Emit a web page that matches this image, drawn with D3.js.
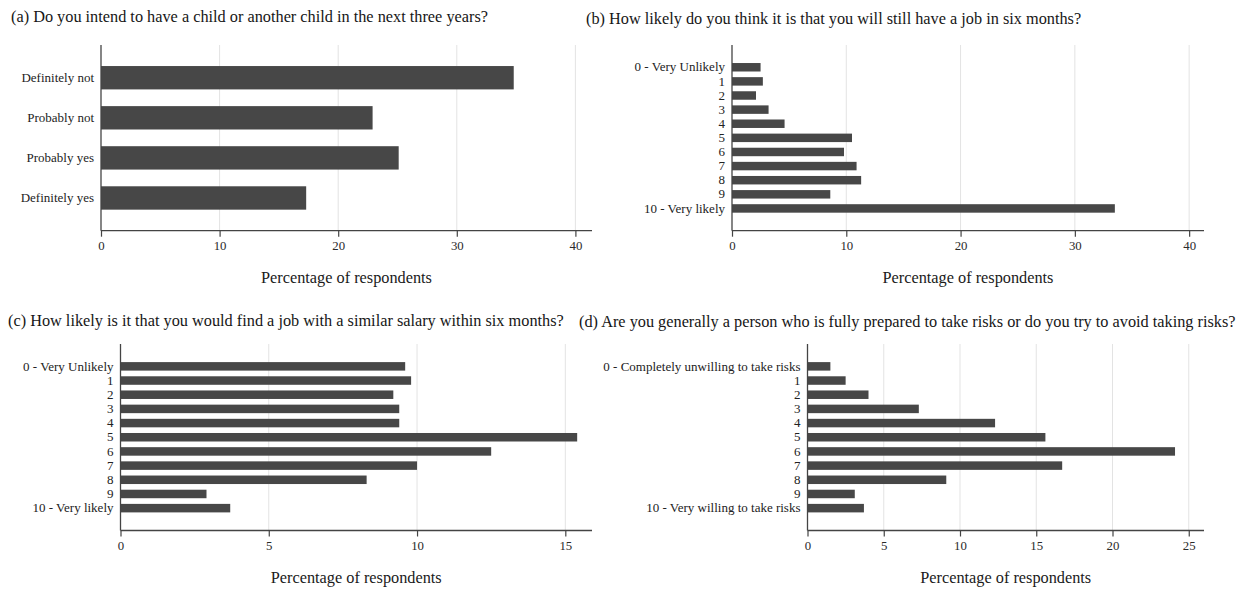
<!DOCTYPE html>
<html>
<head>
<meta charset="utf-8">
<script src="https://cdn.jsdelivr.net/npm/d3@7"></script>
<style>
  html, body { margin: 0; padding: 0; background: #fff; }
  svg { display: block; }
  text { font-family: "Liberation Serif", "DejaVu Serif", serif; }
</style>
</head>
<body>
<div id="chart"></div>
<script>
const scaleLabels = ["1", "2", "3", "4", "5", "6", "7", "8", "9"];

const catsA = ["Definitely not", "Probably not", "Probably yes", "Definitely yes"];
const valsA = [34.8, 22.9, 25.1, 17.3];
const ticksA = [0, 10, 20, 30, 40];

const catsB = ["0 - Very Unlikely", ...scaleLabels, "10 - Very likely"];
const valsB = [2.5, 2.7, 2.1, 3.2, 4.6, 10.5, 9.8, 10.9, 11.3, 8.6, 33.5];
const ticksB = [0, 10, 20, 30, 40];

const catsC = ["0 - Very Unlikely", ...scaleLabels, "10 - Very likely"];
const valsC = [9.6, 9.8, 9.2, 9.4, 9.4, 15.4, 12.5, 10.0, 8.3, 2.9, 3.7];
const ticksC = [0, 5, 10, 15];

const catsD = ["0 - Completely unwilling to take risks", ...scaleLabels, "10 - Very willing to take risks"];
const valsD = [1.5, 2.5, 4.0, 7.3, 12.3, 15.6, 24.1, 16.7, 9.1, 3.1, 3.7];
const ticksD = [0, 5, 10, 15, 20, 25];

const titles = [
  "(a) Do you intend to have a child or another child in the next three years?",
  "(b) How likely do you think it is that you will still have a job in six months?",
  "(c) How likely is it that you would find a job with a similar salary within six months?",
  "(d) Are you generally a person who is fully prepared to take risks or do you try to avoid taking risks?"
];
const axisTitle = "Percentage of respondents";

const width = 1246;
const height = 590;
const barColor = "#474747";
const axisColor = "#444";
const gridColor = "#e3e3e3";

const svg = d3.select("#chart")
  .append("svg")
  .attr("width", width)
  .attr("height", height);

svg.append("rect").attr("width", width).attr("height", height).attr("fill", "#fff");

function renderPanel({ title, cats, vals, ticks, xMax, left, right, top, bottom, titleX, titleY, padInner, padOuter }) {
  const x = d3.scaleLinear().domain([0, xMax]).range([left, right]);
  const y = d3.scaleBand()
    .domain(cats)
    .range([top, bottom])
    .paddingInner(padInner)
    .paddingOuter(padOuter);

  const g = svg.append("g");

  g.append("text")
    .attr("x", titleX)
    .attr("y", titleY)
    .attr("dy", "0.35em")
    .attr("font-size", 16.3)
    .attr("fill", "#161616")
    .text(title);

  // vertical grid lines
  g.selectAll(".grid")
    .data(ticks.filter((t) => t > 0))
    .join("line")
    .attr("class", "grid")
    .attr("x1", (d) => x(d))
    .attr("x2", (d) => x(d))
    .attr("y1", top)
    .attr("y2", bottom)
    .attr("stroke", gridColor)
    .attr("stroke-width", 1);

  g.selectAll(".bar")
    .data(cats.map((c, i) => ({ c, v: vals[i] })))
    .join("rect")
    .attr("class", "bar")
    .attr("x", x(0))
    .attr("y", (d) => y(d.c))
    .attr("width", (d) => x(d.v) - x(0))
    .attr("height", y.bandwidth())
    .attr("fill", barColor);

  const xAxis = g.append("g")
    .attr("transform", `translate(0,${bottom})`)
    .call(d3.axisBottom(x).tickValues(ticks).tickSize(6).tickPadding(4).tickFormat(d3.format("d")));
  xAxis.select(".domain").attr("stroke", axisColor).attr("stroke-width", 1.3).attr("d", `M${left},0H${right}`);
  xAxis.selectAll(".tick line").attr("stroke", axisColor).attr("stroke-width", 1.2);
  xAxis.selectAll(".tick text")
    .attr("font-family", "'Liberation Serif', serif")
    .attr("font-size", 12.8)
    .attr("fill", "#2a2a2a");

  const yAxis = g.append("g")
    .attr("transform", `translate(${left},0)`)
    .call(d3.axisLeft(y).tickSize(0).tickPadding(7));
  yAxis.select(".domain").attr("stroke", axisColor).attr("stroke-width", 1.3).attr("d", `M0,${top}V${bottom}`);
  yAxis.selectAll(".tick text")
    .attr("font-family", "'Liberation Serif', serif")
    .attr("font-size", 13)
    .attr("fill", "#222");

  g.append("text")
    .attr("x", (left + right) / 2)
    .attr("y", bottom + 47)
    .attr("dy", "0.35em")
    .attr("text-anchor", "middle")
    .attr("font-size", 16.3)
    .attr("fill", "#1a1a1a")
    .text(axisTitle);
}

renderPanel({ title: titles[0], cats: catsA, vals: valsA, ticks: ticksA, xMax: 41.4,
  left: 101, right: 592, top: 45, bottom: 230.7, titleX: 11, titleY: 16, padInner: 0.417, padOuter: 0.525 });
renderPanel({ title: titles[1], cats: catsB, vals: valsB, ticks: ticksB, xMax: 41.3,
  left: 732, right: 1204, top: 45, bottom: 230.7, titleX: 586, titleY: 18, padInner: 0.4, padOuter: 1.277 });
renderPanel({ title: titles[2], cats: catsC, vals: valsC, ticks: ticksC, xMax: 15.9,
  left: 120.5, right: 592, top: 344, bottom: 530.5, titleX: 8, titleY: 320, padInner: 0.4, padOuter: 1.277 });
renderPanel({ title: titles[3], cats: catsD, vals: valsD, ticks: ticksD, xMax: 26.0,
  left: 807.5, right: 1204, top: 344, bottom: 530.5, titleX: 579, titleY: 321, padInner: 0.4, padOuter: 1.277 });
</script>
</body>
</html>
